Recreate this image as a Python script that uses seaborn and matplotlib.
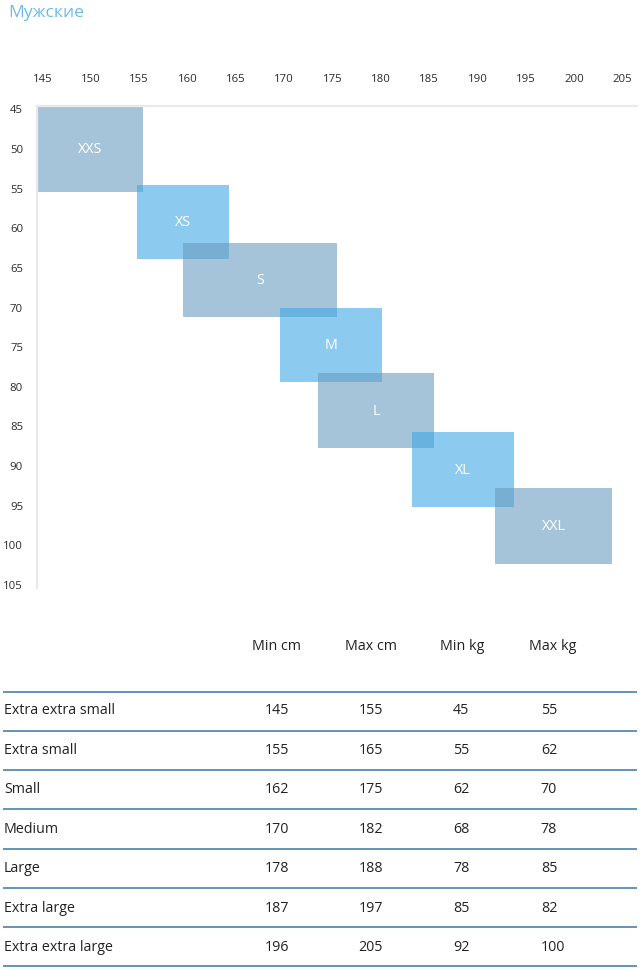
import matplotlib
matplotlib.use("Agg")
import matplotlib.pyplot as plt
import seaborn as sns
import numpy as np

# ---------------- data ----------------
sizes = ["XXS", "XS", "S", "M", "L", "XL", "XXL"]
rect_min_cm = [144.5, 154.8, 159.5, 169.6, 173.5, 183.2, 191.8]
rect_max_cm = [155.4, 164.3, 175.5, 180.1, 185.5, 193.8, 203.9]
rect_min_kg = [44.6, 54.5, 61.8, 70.0, 78.3, 85.7, 92.8]
rect_max_kg = [55.4, 63.9, 71.2, 79.4, 87.7, 95.2, 102.3]

x_ticks = list(range(145, 206, 5))
y_ticks = list(range(45, 106, 5))

title = "Мужские"
table_headers = ["Min cm", "Max cm", "Min kg", "Max kg"]
row_names = ["Extra extra small", "Extra small", "Small", "Medium",
             "Large", "Extra large", "Extra extra large"]
tbl_min_cm = [145, 155, 162, 170, 178, 187, 196]
tbl_max_cm = [155, 165, 175, 182, 188, 197, 205]
tbl_min_kg = [45, 55, 62, 68, 78, 85, 92]
tbl_max_kg = [55, 62, 70, 78, 85, 82, 100]

# ---------------- style ----------------
sns.set_theme(style="white")
plt.rcParams['font.family'] = ['Open Sans', 'DejaVu Sans']

W, H = 640, 969
fig = plt.figure(figsize=(W / 100, H / 100), dpi=100)

# chart axes (pixel layout)
ax_l, ax_r, ax_t, ax_b = 37, 637, 106, 588
ax = fig.add_axes([ax_l / W, 1 - ax_b / H, (ax_r - ax_l) / W, (ax_b - ax_t) / H])

c_grey = "#6a9dc0"
c_light = "#3fa8e6"
colors = [c_grey if i % 2 == 0 else c_light for i in range(len(sizes))]

widths = np.array(rect_max_cm) - np.array(rect_min_cm)
heights = np.array(rect_max_kg) - np.array(rect_min_kg)
ax.bar(x=rect_min_cm, height=heights, width=widths, bottom=rect_min_kg,
       align="edge", color=colors, alpha=0.6, linewidth=0, zorder=2)

for i, s in enumerate(sizes):
    cx = (rect_min_cm[i] + rect_max_cm[i]) / 2
    cy = (rect_min_kg[i] + rect_max_kg[i]) / 2 - 0.15
    ax.text(cx, cy, s, color="white", ha="center", va="center_baseline",
            fontsize=10.3, zorder=3)

# axis scales: px = 42.5 + (v-145)*9.67 ; py = 109.3 + (v-45)*7.93
x0 = 145 + (ax_l - 42.5) / 9.67
x1 = 145 + (ax_r - 42.5) / 9.67
y0 = 45 + (ax_t - 109.3) / 7.93
y1 = 45 + (ax_b - 109.3) / 7.93
ax.set_xlim(x0, x1)
ax.set_ylim(y1, y0)

ax.xaxis.tick_top()
ax.set_xticks(x_ticks)
ax.set_yticks(y_ticks)
ax.tick_params(axis="x", length=0, pad=15, labelsize=8.2, colors="#2b2b2b")
ax.tick_params(axis="y", length=0, pad=10, labelsize=8.2, colors="#2b2b2b")
for lab in ax.get_yticklabels():
    lab.set_horizontalalignment("right")

for side in ["right", "bottom"]:
    ax.spines[side].set_visible(False)
for side in ["top", "left"]:
    ax.spines[side].set_color("#e9e9e9")
    ax.spines[side].set_linewidth(1.6)
ax.grid(False)
ax.set_facecolor("none")

# title
fig.text(8 / W, 1 - 11 / H, title, color="#6cbbe9", fontsize=12.6,
         ha="left", va="center_baseline")

# ---------------- table ----------------
tb_top, tb_bot = 620, 969
line0, row_h = 692.3, 39.06
tax = fig.add_axes([0, 0, 1, (tb_bot - tb_top) / H])
tax.set_xlim(0, W)
tax.set_ylim((tb_bot - line0) / row_h, (tb_top - line0) / row_h)
tax.axis("off")

n = len(row_names)
line_ys = np.arange(n + 1)
tax.hlines(line_ys, 3, 637, color="#4a80a5", linewidth=1.2)

header_x = [276.3, 370.9, 462.3, 552.7]
col_x = [264.5, 358.4, 453.0, 540.8]
header_y = (644.5 - line0) / row_h
for hx, h in zip(header_x, table_headers):
    tax.text(hx, header_y, h, ha="center", va="center_baseline", fontsize=10.3,
             color="#222222")

cols = [tbl_min_cm, tbl_max_cm, tbl_min_kg, tbl_max_kg]
for r in range(n):
    ty = (708.5 + r * 39.55 - line0) / row_h
    tax.text(4, ty, row_names[r], ha="left", va="center_baseline", fontsize=10.3,
             color="#222222")
    for cx, col in zip(col_x, cols):
        tax.text(cx, ty, str(col[r]), ha="left", va="center_baseline",
                 fontsize=10.3, color="#222222")

fig.savefig("out.png", dpi=100)
